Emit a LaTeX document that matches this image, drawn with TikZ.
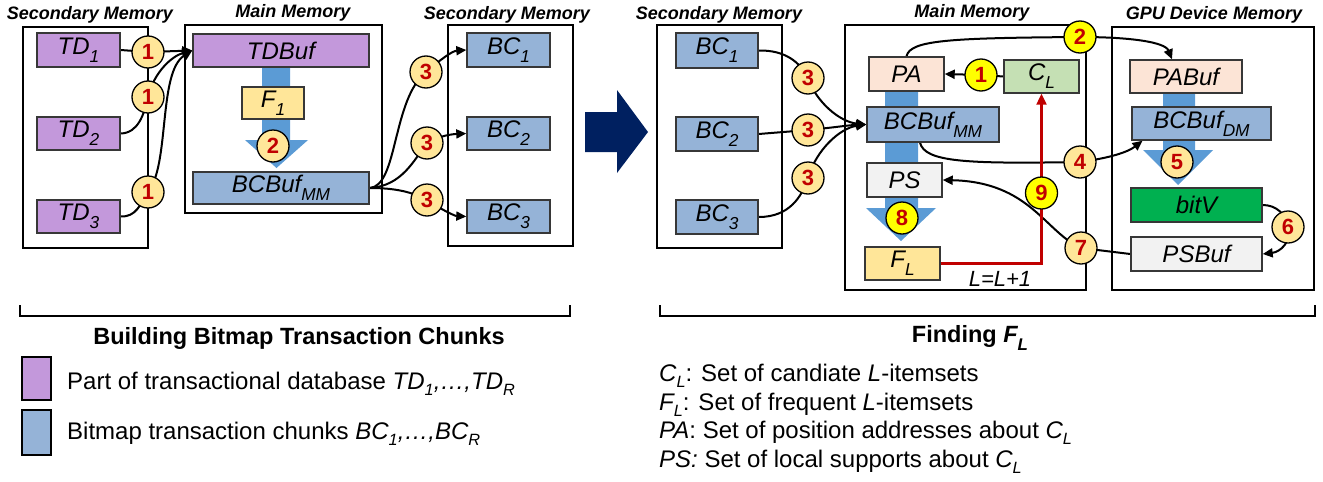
\documentclass[tikz,border=0pt]{standalone}
\usepackage{fontspec}
\setmainfont{Liberation Sans}
\usetikzlibrary{arrows.meta,calc}
\definecolor{purp}{RGB}{195,152,219}
\definecolor{bcblue}{RGB}{149,179,215}
\definecolor{fatblue}{RGB}{91,155,213}
\definecolor{lyel}{RGB}{255,230,153}
\definecolor{yel}{RGB}{255,255,0}
\definecolor{peach}{RGB}{252,228,214}
\definecolor{lgreen}{RGB}{197,224,180}
\definecolor{lgray}{RGB}{242,242,242}
\definecolor{gre}{RGB}{0,176,80}
\definecolor{navyc}{RGB}{0,32,96}
\definecolor{dred}{RGB}{192,0,0}
\definecolor{bordc}{RGB}{55,55,55}
\newcommand\dn[1]{\raisebox{-0.34em}{\scalebox{0.72}{#1}}}
\newcommand\dnl[1]{\raisebox{-0.26em}{\scalebox{0.68}{#1}}}
\pgfdeclarelayer{bg}\pgfsetlayers{bg,main}
\begin{document}
\begin{tikzpicture}[x=1pt,y=-1pt,
  memb/.style={draw=black,line width=1.5pt,inner sep=0},
  bx/.style={draw=bordc,line width=1.4pt,inner sep=0,font=\fontsize{24}{24}\selectfont\itshape},
  num/.style={circle,draw=black,line width=1.3pt,minimum size=32pt,inner sep=0,font=\fontsize{22}{22}\selectfont\bfseries,text=dred},
  lnum/.style={num,fill=lyel},
  ynum/.style={num,fill=yel},
  ttl/.style={font=\fontsize{18}{18}\selectfont\bfseries\itshape},
  conn/.style={line width=2pt,-{Triangle[length=10pt,width=9pt]}},
  lgt/.style={anchor=west,font=\fontsize{24}{24}\selectfont,inner sep=0},
]
\useasboundingbox (0,0) rectangle (1323,482);
% ---------- left part ----------
\node[ttl] (t1) at (90,15) {Secondary Memory};
\node[ttl] (t2) at (293,13) {Main Memory};
\node[ttl] (t3) at (507,15) {Secondary Memory};
\node[memb,minimum width=125pt,minimum height=221pt] (secL) at (85.5,137.5) {};
\node[memb,minimum width=197pt,minimum height=188pt] (mainL) at (283.5,119) {};
\node[memb,minimum width=125pt,minimum height=221pt] (secM) at (510.5,135.5) {};
\node[bx,fill=purp,minimum width=83pt,minimum height=34pt] (td1) at (78.5,50) {TD\dn{1}};
\node[bx,fill=purp,minimum width=83pt,minimum height=33pt] (td2) at (78.5,133.5) {TD\dn{2}};
\node[bx,fill=purp,minimum width=83pt,minimum height=33pt] (td3) at (78.5,216.5) {TD\dn{3}};
\node[bx,fill=purp,minimum width=176pt,minimum height=33pt] (tdbuf) at (281,50.5) {TDBuf};
\node[bx,fill=lyel,minimum width=62pt,minimum height=32pt] (f1) at (273,103) {F\dn{1}};
\node[bx,fill=bcblue,minimum width=176pt,minimum height=32pt] (bcbufL) at (281,188) {BCBuf\dn{MM}};
\node[bx,fill=bcblue,minimum width=83pt,minimum height=34pt] (bc1L) at (508.5,50) {BC\dn{1}};
\node[bx,fill=bcblue,minimum width=83pt,minimum height=33pt] (bc2L) at (508.5,133.5) {BC\dn{2}};
\node[bx,fill=bcblue,minimum width=83pt,minimum height=33pt] (bc3L) at (508.5,216.5) {BC\dn{3}};
\node[lnum] (c1a) at (148,52) {1};
\node[lnum] (c1b) at (148,97) {1};
\node[lnum] (c1c) at (148,192) {1};
\node[lnum] (c2L) at (273,146) {2};
\node[lnum] (c3a) at (426,72) {3};
\node[lnum] (c3b) at (427,143) {3};
\node[lnum] (c3c) at (427,200) {3};
% ---------- right part ----------
\node[ttl] (t4) at (719,15) {Secondary Memory};
\node[ttl] (t5) at (972,13) {Main Memory};
\node[ttl] (t6) at (1214,15) {GPU Device Memory};
\node[memb,minimum width=125pt,minimum height=223pt] (secR) at (719.5,136.5) {};
\node[memb,minimum width=241pt,minimum height=265pt] (mainR) at (965.5,157.5) {};
\node[memb,minimum width=202pt,minimum height=263pt] (gpu) at (1213,158.5) {};
\node[bx,fill=bcblue,minimum width=82pt,minimum height=35pt] (bc1R) at (717,50.5) {BC\dn{1}};
\node[bx,fill=bcblue,minimum width=82pt,minimum height=34pt] (bc2R) at (717,134) {BC\dn{2}};
\node[bx,fill=bcblue,minimum width=82pt,minimum height=34pt] (bc3R) at (717,217) {BC\dn{3}};
\node[bx,fill=peach,minimum width=75pt,minimum height=34pt] (pa) at (906.5,74) {PA};
\node[bx,fill=lgreen,minimum width=75pt,minimum height=33pt] (cl) at (1041.5,76.5) {C\dn{L}};
\node[bx,fill=bcblue,minimum width=132pt,minimum height=35pt] (bcbufR) at (933,124.5) {BCBuf\dn{MM}};
\node[bx,fill=lgray,minimum width=75pt,minimum height=34pt] (ps) at (904.5,180) {PS};
\node[bx,fill=lyel,minimum width=75pt,minimum height=33pt] (fl) at (902.5,263.5) {F\dn{L}};
\node[bx,fill=peach,minimum width=112pt,minimum height=33pt] (pabuf) at (1186,76.5) {PABuf};
\node[bx,fill=bcblue,minimum width=139pt,minimum height=33pt] (bcbufD) at (1201.5,123.5) {BCBuf\dn{DM}};
\node[bx,fill=gre,minimum width=131pt,minimum height=34pt] (bitv) at (1196.5,205) {bitV};
\node[bx,fill=lgray,minimum width=131pt,minimum height=34pt] (psbuf) at (1196.5,254) {PSBuf};
\node[font=\fontsize{22}{22}\selectfont\itshape] (incr) at (1000,279) {L=L+1};
\node[lnum] (c3d) at (808,78) {3};
\node[lnum] (c3e) at (808,130) {3};
\node[lnum] (c3f) at (808,178) {3};
\node[ynum] (c1R) at (981,75) {1};
\node[ynum] (c2R) at (1080,37) {2};
\node[lnum] (c4R) at (1080,162) {4};
\node[lnum] (c5R) at (1177,162) {5};
\node[lnum] (c6R) at (1288,227) {6};
\node[lnum] (c7R) at (1081,248) {7};
\node[ynum] (c8R) at (902,218) {8};
\node[ynum] (c9R) at (1041.5,193) {9};
% ---------- background: fat arrows and connectors ----------
\begin{pgfonlayer}{bg}
\fill[fatblue] (262,67) -- (290,67) -- (290,140) -- (308,140) -- (276.5,168) -- (245,140) -- (262,140) -- cycle;
\fill[fatblue] (885,91) -- (918,91) -- (918,208) -- (936,208) -- (901,241) -- (866,208) -- (885,208) -- cycle;
\fill[fatblue] (1163,93) -- (1195,93) -- (1195,150) -- (1213,150) -- (1178,185) -- (1143,150) -- (1163,150) -- cycle;
\draw[conn] (td1.east) -- (c1a.center) -- (tdbuf.west);
\draw[conn] (td2.east) .. controls (138,133) and (144,115) .. (c1b.center) .. controls (154,72) and (172,56) .. (tdbuf.west);
\draw[conn] (td3.east) .. controls (136,217) and (140,205) .. (c1c.center) .. controls (170,165) and (158,72) .. (tdbuf.west);
\draw[conn] (bcbufL.east) .. controls (398,186) and (392,100) .. (c3a.center) .. controls (440,60) and (452,51) .. (bc1L.west);
\draw[conn] (bcbufL.east) .. controls (402,186) and (414,160) .. (c3b.center) .. controls (440,135) and (455,134) .. (bc2L.west);
\draw[conn] (bcbufL.east) .. controls (396,188) and (412,192) .. (c3c.center) .. controls (442,210) and (455,216) .. (bc3L.west);
\draw[conn] (bc1R.east) .. controls (785,50) and (800,62) .. (c3d.center) .. controls (816,102) and (840,122) .. (bcbufR.west);
\draw[conn] (bc2R.east) -- (c3e.center) .. controls (830,128) and (850,125) .. (bcbufR.west);
\draw[conn] (bc3R.east) .. controls (790,217) and (802,196) .. (c3f.center) .. controls (816,150) and (840,128) .. (bcbufR.west);
\draw[conn] (cl.west) -- (c1R.center) -- (pa.east);
\draw[conn] (pa.north) .. controls (910,40) and (950,38) .. (c2R.center) .. controls (1130,37) and (1165,42) .. ([xshift=-14pt]pabuf.north);
\draw[conn] ([xshift=-13pt]bcbufR.south) .. controls (925,162) and (965,164) .. (c4R.center) .. controls (1110,158) and (1128,152) .. ([xshift=-59pt]bcbufD.south);
\draw[conn] (psbuf.west) -- (c7R.center) .. controls (1045,232) and (1030,182) .. (ps.east);
\draw[conn] (bitv.east) .. controls (1276,205) and (1286,214) .. (c6R.center) .. controls (1292,242) and (1280,252) .. (psbuf.east);
\draw[line width=2.2pt,dred,-{Triangle[length=11pt,width=10pt]}] (fl.east) -| (cl.south);
\end{pgfonlayer}
% ---------- big arrow ----------
\fill[navyc] (585,112) -- (617,112) -- (617,90) -- (648,132) -- (617,173) -- (617,152) -- (585,152) -- cycle;
% ---------- bottom ----------
\draw[line width=1.5pt] (20,305) -- (20,316) -- (570,316) -- (570,305);
\draw[line width=1.5pt] (660,305) -- (660,316) -- (1315,316) -- (1315,305);
\node[font=\fontsize{23.5}{23.5}\selectfont\bfseries] (cap1) at (299,338) {Building Bitmap Transaction Chunks};
\node[font=\fontsize{23.5}{23.5}\selectfont\bfseries] (cap2) at (970,338) {Finding \textit{F\dn{L}}};
\node[draw=black,line width=1.5pt,fill=purp,minimum width=29pt,minimum height=43pt,inner sep=0] (lgp) at (36.5,378.5) {};
\node[draw=black,line width=1.5pt,fill=bcblue,minimum width=29pt,minimum height=45pt,inner sep=0] (lgb) at (36.5,432.5) {};
\node[lgt] (lt1) at (67,384) {Part of transactional database \textit{TD\dnl{1},…,TD\dnl{R}}};
\node[lgt] (lt2) at (67,434) {Bitmap transaction chunks \textit{BC\dnl{1},…,BC\dnl{R}}};
\node[lgt] (r1) at (659,376) {\textit{C\dnl{L}}: Set of candiate \textit{L}-itemsets};
\node[lgt] (r2) at (659,404.5) {\textit{F\dnl{L}}: Set of frequent \textit{L}-itemsets};
\node[lgt] (r3) at (659,433) {\textit{PA}: Set of position addresses about \textit{C\dnl{L}}};
\node[lgt] (r4) at (659,461.5) {\textit{PS:} Set of local supports about \textit{C\dnl{L}}};
\end{tikzpicture}
\end{document}
